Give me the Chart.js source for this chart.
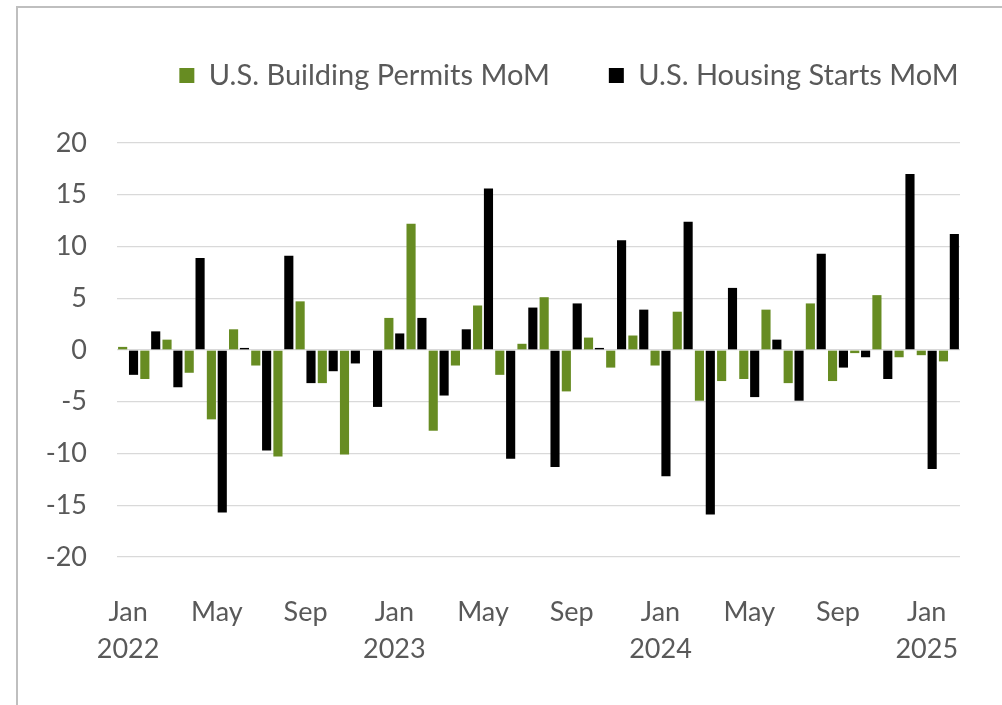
<!DOCTYPE html>
<html>
<head>
<meta charset="utf-8">
<script src="https://cdn.jsdelivr.net/npm/chart.js@4.4.1/dist/chart.umd.min.js"></script>
<style>
  html, body { margin: 0; padding: 0; background: #ffffff; }
  #wrap { width: 1002px; height: 705px; position: relative; }
</style>
</head>
<body>
<div id="wrap"><canvas id="c" width="1002" height="705"></canvas></div>
<script>
// ---- Data ----
const categories = [
  'Jan 2022','Feb 2022','Mar 2022','Apr 2022','May 2022','Jun 2022','Jul 2022','Aug 2022','Sep 2022','Oct 2022','Nov 2022','Dec 2022',
  'Jan 2023','Feb 2023','Mar 2023','Apr 2023','May 2023','Jun 2023','Jul 2023','Aug 2023','Sep 2023','Oct 2023','Nov 2023','Dec 2023',
  'Jan 2024','Feb 2024','Mar 2024','Apr 2024','May 2024','Jun 2024','Jul 2024','Aug 2024','Sep 2024','Oct 2024','Nov 2024','Dec 2024',
  'Jan 2025','Feb 2025'
];
const buildingPermitsMoM = [
  0.3, -2.8, 1.0, -2.2, -6.7, 2.0, -1.5, -10.3, 4.7, -3.2, -10.1, 0.0,
  3.1, 12.2, -7.8, -1.5, 4.3, -2.4, 0.6, 5.1, -4.0, 1.2, -1.7, 1.4,
  -1.5, 3.7, -4.9, -3.0, -2.8, 3.9, -3.2, 4.5, -3.0, -0.3, 5.3, -0.7,
  -0.5, -1.1
];
const housingStartsMoM = [
  -2.4, 1.8, -3.6, 8.9, -15.7, 0.2, -9.7, 9.1, -3.2, -2.05, -1.3, -5.5,
  1.6, 3.1, -4.4, 2.0, 15.6, -10.5, 4.1, -11.3, 4.5, 0.2, 10.6, 3.9,
  -12.2, 12.4, -15.9, 6.0, -4.55, 1.0, -4.9, 9.3, -1.7, -0.7, -2.8, 17.0,
  -11.5, 11.2
];
const seriesNames = ['U.S. Building Permits MoM', 'U.S. Housing Starts MoM'];
const shownMonths = ['Jan', 'May', 'Sep'];
const yMin = -20, yMax = 20, yStep = 5;

// ---- Styling ----
const FONT = 'Lato';
const TEXT = '#595959';
const GREEN = '#678C22';
const BLACK = '#000000';

const framePlugin = {
  id: 'frame',
  beforeDraw(chart) {
    const c = chart.ctx;
    c.save();
    c.fillStyle = '#ffffff';
    c.fillRect(0, 0, chart.width, chart.height);
    c.strokeStyle = '#bfbfbf';
    c.lineWidth = 2;
    c.strokeRect(17, 7, 1020, 730);
    c.restore();
  }
};

const legendTweak = {
  id: 'legendTweak',
  beforeUpdate(chart) {
    const lg = chart.legend;
    if (!lg || lg._tweaked) return;
    lg._tweaked = true;
    const fit = lg.fit.bind(lg);
    lg.fit = function () { fit(); this.height = 141; };
    const draw = lg.draw.bind(lg);
    lg.draw = function () {
      const hb = this.legendHitBoxes;
      let dx = 0;
      if (hb && hb.length) {
        const s = hb[0].left;
        const e = hb[hb.length - 1].left + hb[hb.length - 1].width;
        dx = 569 - (s + e) / 2;
      }
      const ctx = this.ctx;
      ctx.save();
      ctx.translate(dx, 0);
      draw();
      ctx.restore();
    };
  }
};

new Chart(document.getElementById('c'), {
  type: 'bar',
  data: {
    labels: categories,
    datasets: [
      { label: seriesNames[0], data: buildingPermitsMoM, backgroundColor: GREEN, borderWidth: 0,
        categoryPercentage: 0.98, barPercentage: 0.84 },
      { label: seriesNames[1], data: housingStartsMoM, backgroundColor: BLACK, borderWidth: 0,
        categoryPercentage: 0.98, barPercentage: 0.84 }
    ]
  },
  options: {
    responsive: false,
    animation: false,
    devicePixelRatio: 1,
    layout: { padding: { top: 2, right: 42, bottom: 0, left: 0 } },
    plugins: {
      tooltip: { enabled: false },
      legend: {
        position: 'top',
        align: 'center',
        labels: {
          boxWidth: 15, boxHeight: 15, padding: 59,
          color: TEXT,
          font: { family: FONT, size: 29 }
        }
      }
    },
    scales: {
      x: {
        grid: { display: false },
        border: { display: false },
        ticks: {
          autoSkip: false, maxRotation: 0, minRotation: 0,
          padding: 29,
          color: TEXT,
          font: { family: FONT, size: 27, lineHeight: 1.37 },
          callback: function (value, index) {
            const parts = categories[index].split(' ');
            if (!shownMonths.includes(parts[0])) return '';
            return parts[0] === 'Jan' ? [parts[0], parts[1]] : parts[0];
          }
        },
        afterFit(scale) { scale.height = 148; }
      },
      y: {
        min: yMin, max: yMax,
        grid: { color: '#d9d9d9', lineWidth: 1.3, drawTicks: false },
        border: { display: false },
        ticks: {
          stepSize: yStep,
          padding: 30,
          color: TEXT,
          font: { family: FONT, size: 27 }
        },
        afterFit(scale) { scale.width = 117; }
      }
    }
  },
  plugins: [framePlugin, legendTweak]
});
</script>
</body>
</html>
